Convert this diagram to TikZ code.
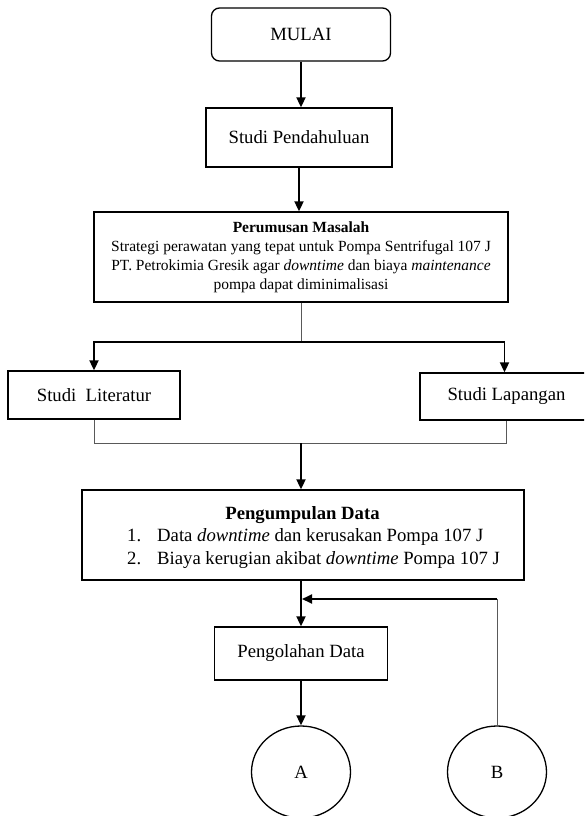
\documentclass[tikz,border=0pt]{standalone}
\usepackage{fontspec}
\setmainfont{Liberation Serif}
\usetikzlibrary{arrows.meta,shapes.geometric}
\newcommand\bigf{\fontsize{18.7pt}{22.5pt}\selectfont}
\newcommand\smallf{\fontsize{15.5pt}{19pt}\selectfont}
\tikzset{
  box/.style={draw, line width=1.3pt, inner sep=0pt, align=center, font=\bigf},
  term/.style={box, rounded corners=8pt},
  conn/.style={draw, ellipse, line width=1.3pt, inner sep=0pt, font=\bigf,
               minimum width=99pt, minimum height=92pt},
  txt/.style={inner sep=0pt, font=\bigf},
  arr/.style={line width=1.8pt, -{Triangle[length=10pt,width=9pt]}},
  plain/.style={line width=1pt, draw=black!65},
}
\begin{document}
\begin{tikzpicture}[x=1pt,y=1pt]
  \useasboundingbox (0,0) rectangle (584,-816);
  \clip (0,0) rectangle (584,-816);

  % flow boxes
  \node[term, minimum width=179pt, minimum height=53pt] (mulai) at (301,-34.5) {MULAI};
  \node[box, minimum width=186pt, minimum height=59pt] (pend) at (299,-137.5) {Studi Pendahuluan};
  \node[box, font=\smallf, minimum width=414pt, minimum height=90pt] (rumus) at (301,-257)
    {\textbf{Perumusan Masalah}\\
     Strategi perawatan yang tepat untuk Pompa Sentrifugal 107 J\\
     PT. Petrokimia Gresik agar \textit{downtime} dan biaya \textit{maintenance}\\
     pompa dapat diminimalisasi};
  \node[box, minimum width=172pt, minimum height=48pt] (lit) at (94,-395) {Studi\ \ Literatur};
  \node[box, minimum width=173pt, minimum height=47pt] (lap) at (506.5,-396.5) {Studi Lapangan};

  \node[box, minimum width=442pt, minimum height=90pt] (peng) at (303,-535) {};
  \node[txt, anchor=base, font=\bigf\bfseries] (pengT) at (302.5,-519) {Pengumpulan Data};
  \node[txt, anchor=base west] (peng1) at (127,-541)
    {\makebox[30pt][l]{1.}Data \textit{downtime} dan kerusakan Pompa 107 J};
  \node[txt, anchor=base west] (peng2) at (127,-564)
    {\makebox[30pt][l]{2.}Biaya kerugian akibat \textit{downtime} Pompa 107 J};

  \node[box, minimum width=173pt, minimum height=53pt] (olah) at (301,-653.5) {Pengolahan Data};
  \node[conn] (A) at (301,-772) {A};
  \node[conn] (B) at (497,-772) {B};

  % connectors
  \draw[arr] (mulai.south) -- (mulai.south |- pend.north);
  \draw[arr] (pend.south) -- (pend.south |- rumus.north);

  \coordinate (br) at (301,-342);
  \draw[plain] (rumus.south) -- (br);
  \draw[arr] (br) -| (lit.north);
  \draw[arr] (br) -| ([xshift=-2pt]lap.north);

  \coordinate (mg) at (301,-443);
  \draw[plain] (lit.south) |- (mg);
  \draw[plain] (lap.south) |- (mg);
  \draw[arr] (mg) -- (mg |- peng.north);

  \draw[arr] (olah.north |- peng.south) -- (olah.north);
  \draw[arr] (olah.south) -- (A.north);

  \coordinate (fb) at (302,-599);
  \draw[plain] (B.north) -- (B.north |- fb);
  \draw[arr] (B.north |- fb) -- (fb);
\end{tikzpicture}
\end{document}
